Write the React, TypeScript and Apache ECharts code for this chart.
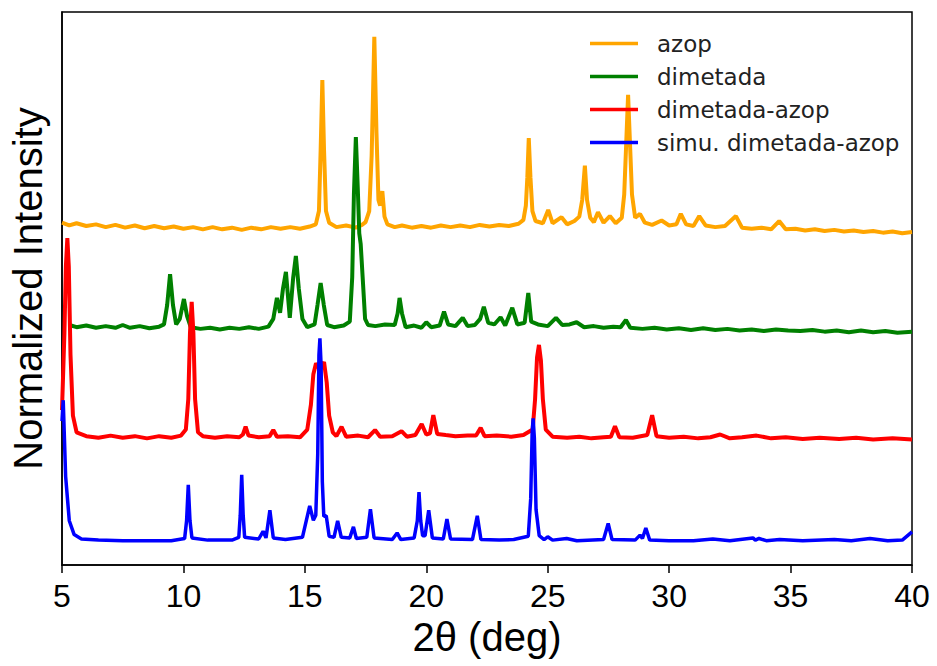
import React, { useEffect, useRef } from "react";
import * as echarts from "echarts";

// 2θ (deg) vs normalized intensity (offset traces, arbitrary units 0–100)
const xTicks = [5, 10, 15, 20, 25, 30, 35, 40];
const seriesNames = ["azop", "dimetada", "dimetada-azop", "simu. dimetada-azop"];
const seriesColors = ["#FFA500", "#008000", "#FF0000", "#0000FF"];
const seriesWidths = [4, 4, 4, 3.5];

const azop: number[][] = [
  [5.0, 61.9], [5.3, 61.4], [5.6, 61.8], [6.0, 61.3], [6.4, 61.6], [6.8, 61.1], [7.2, 61.5], [7.6, 61.0], [8.0, 61.4], [8.4, 60.9],
  [8.8, 61.3], [9.2, 60.9], [9.6, 61.2], [10.0, 60.8], [10.4, 61.1], [10.8, 60.7], [11.2, 61.1], [11.6, 60.7], [12.0, 61.0], [12.4, 60.6],
  [12.8, 61.0], [13.2, 60.7], [13.6, 61.1], [14.0, 60.8], [14.4, 61.1], [14.8, 60.8], [15.2, 61.2], [15.45, 61.6], [15.58, 64], [15.65, 75],
  [15.72, 87.7], [15.79, 75], [15.87, 64], [16.0, 61.9], [16.3, 61.1], [16.7, 61.4], [17.1, 61.0], [17.35, 61.5], [17.5, 62.0], [17.65, 64],
  [17.75, 74], [17.86, 95.5], [17.95, 78], [18.03, 66], [18.1, 65], [18.19, 67.6], [18.28, 63], [18.4, 61.6], [18.7, 61.1], [19.0, 61.4],
  [19.4, 61.0], [19.8, 61.3], [20.2, 61.0], [20.6, 61.4], [21.0, 61.1], [21.4, 61.4], [21.8, 61.1], [22.2, 61.5], [22.6, 61.2], [23.0, 61.5],
  [23.4, 61.3], [23.8, 61.7], [24.0, 62.4], [24.1, 65], [24.16, 70], [24.22, 77.2], [24.29, 70], [24.37, 64], [24.5, 62.2], [24.8, 61.8],
  [25.02, 64.2], [25.2, 61.8], [25.57, 62.9], [25.8, 61.6], [26.1, 62.2], [26.3, 63.0], [26.42, 66], [26.53, 72.2], [26.62, 66], [26.75, 62.8],
  [26.9, 62.0], [27.07, 63.8], [27.3, 61.9], [27.56, 63.1], [27.8, 61.8], [28.05, 62.8], [28.15, 67], [28.23, 76], [28.31, 85.0], [28.39, 76],
  [28.47, 67], [28.6, 62.8], [28.8, 63.5], [29.0, 61.9], [29.3, 61.5], [29.69, 62.3], [30.0, 61.4], [30.3, 61.6], [30.48, 63.5], [30.7, 61.6],
  [31.0, 61.3], [31.24, 63.1], [31.5, 61.4], [31.9, 61.1], [32.3, 61.3], [32.75, 63.1], [33.0, 61.0], [33.4, 60.8], [33.8, 61.0], [34.2, 60.7],
  [34.53, 62.2], [34.8, 60.7], [35.2, 60.8], [35.6, 60.5], [36.0, 60.7], [36.4, 60.4], [36.8, 60.6], [37.2, 60.3], [37.6, 60.5], [38.0, 60.2],
  [38.4, 60.4], [38.8, 60.1], [39.2, 60.3], [39.6, 60.0], [40.0, 60.2],
];

const dimetada: number[][] = [
  [5.3, 43.4], [5.6, 43.0], [6.0, 43.3], [6.4, 42.9], [6.8, 43.2], [7.2, 42.9], [7.5, 43.4], [7.8, 42.9], [8.2, 43.2], [8.6, 42.8],
  [9.0, 43.1], [9.2, 43.5], [9.33, 47], [9.45, 52.6], [9.57, 47], [9.7, 43.5], [9.85, 44.5], [10.02, 48.1], [10.15, 45], [10.3, 43.0],
  [10.7, 42.7], [11.1, 42.9], [11.5, 42.6], [11.9, 42.9], [12.3, 42.7], [12.7, 43.0], [13.1, 42.7], [13.5, 43.1], [13.7, 44.5], [13.85, 48.3],
  [13.98, 45.6], [14.1, 50], [14.22, 53.0], [14.38, 44.7], [14.52, 52], [14.63, 55.9], [14.75, 50], [14.9, 44.5], [15.1, 43.0], [15.4, 43.5],
  [15.52, 47], [15.65, 51.0], [15.78, 47], [15.92, 43.4], [16.2, 43.0], [16.6, 43.3], [16.85, 44], [16.95, 52], [17.02, 67], [17.1, 77.4],
  [17.18, 68], [17.24, 60], [17.3, 58.0], [17.38, 52], [17.48, 44.5], [17.6, 43.4], [17.9, 43.2], [18.3, 43.5], [18.7, 43.4], [18.82, 45.5],
  [18.9, 48.3], [19.0, 45.5], [19.15, 43.0], [19.5, 43.3], [19.8, 42.9], [20.0, 43.9], [20.2, 43.0], [20.55, 43.3], [20.73, 45.8], [20.9, 43.5],
  [21.2, 43.2], [21.5, 44.7], [21.7, 43.2], [22.0, 43.4], [22.22, 44.5], [22.37, 46.7], [22.55, 43.8], [22.8, 43.5], [23.06, 44.8], [23.25, 43.3],
  [23.54, 46.5], [23.75, 43.5], [24.05, 43.8], [24.2, 49.2], [24.32, 44.0], [24.6, 43.5], [25.0, 43.2], [25.34, 44.7], [25.6, 43.4], [25.9, 43.5],
  [26.19, 43.9], [26.5, 43.0], [26.9, 43.2], [27.3, 42.9], [27.7, 43.1], [28.0, 43.0], [28.22, 44.3], [28.4, 42.9], [28.9, 42.7], [29.4, 42.9],
  [29.9, 42.6], [30.4, 42.8], [30.9, 42.5], [31.4, 42.8], [31.9, 42.5], [32.4, 42.7], [32.9, 42.4], [33.4, 42.6], [33.9, 42.3], [34.4, 42.6],
  [34.9, 42.4], [35.4, 42.3], [35.9, 42.5], [36.4, 42.2], [36.9, 42.4], [37.4, 42.1], [37.9, 42.4], [38.4, 42.1], [38.9, 42.3], [39.4, 42.0],
  [40.0, 42.2],
];

const dimetadaAzop: number[][] = [
  [5.0, 28], [5.1, 42], [5.16, 54], [5.22, 59.1], [5.28, 54], [5.35, 38], [5.45, 27], [5.6, 24], [6.0, 23.3], [6.5, 23.0],
  [7.0, 23.4], [7.5, 23.0], [8.0, 23.3], [8.5, 22.9], [9.0, 23.3], [9.5, 23.0], [9.9, 23.4], [10.1, 24.5], [10.2, 30], [10.27, 42],
  [10.34, 47.6], [10.41, 42], [10.48, 30], [10.6, 24], [10.8, 23.3], [11.3, 23.0], [11.8, 23.3], [12.3, 23.1], [12.45, 23.6], [12.56, 25.0],
  [12.68, 23.4], [13.1, 23.1], [13.55, 23.3], [13.7, 24.4], [13.85, 23.2], [14.3, 23.3], [14.8, 23.1], [15.1, 24.5], [15.25, 29], [15.35, 34.5],
  [15.46, 36.5], [15.62, 35.3], [15.79, 36.7], [15.9, 33], [16.0, 27], [16.15, 24], [16.3, 23.3], [16.51, 25.0], [16.7, 23.2], [17.2, 23.4],
  [17.6, 23.1], [17.89, 24.4], [18.1, 23.2], [18.6, 23.3], [18.98, 24.2], [19.2, 23.2], [19.55, 23.5], [19.81, 25.5], [20.0, 23.6], [20.15, 23.8],
  [20.29, 27.1], [20.45, 23.7], [20.8, 23.5], [21.2, 23.3], [21.7, 23.4], [22.05, 23.4], [22.24, 24.8], [22.4, 23.3], [22.9, 23.4], [23.5, 23.2],
  [24.0, 23.5], [24.38, 24.5], [24.48, 30], [24.56, 37.5], [24.64, 39.8], [24.72, 37], [24.8, 30], [24.92, 24.5], [25.2, 23.2], [25.8, 23.0],
  [26.3, 23.2], [26.8, 22.9], [27.3, 23.1], [27.6, 23.2], [27.77, 25.1], [27.95, 23.1], [28.5, 23.0], [29.1, 23.5], [29.3, 27.1], [29.48, 23.3],
  [30.0, 23.0], [30.6, 23.2], [31.2, 22.9], [31.7, 23.1], [32.1, 23.6], [32.5, 22.9], [33.0, 23.1], [33.6, 23.4], [34.2, 22.9], [34.8, 23.1],
  [35.5, 22.8], [36.2, 23.0], [37.0, 22.8], [37.7, 23.0], [38.4, 22.7], [39.2, 22.9], [40.0, 22.7],
];

const simuDimetadaAzop: number[][] = [
  [5.0, 26.0], [5.05, 29.8], [5.15, 16], [5.3, 8], [5.5, 5.5], [5.8, 4.7], [6.5, 4.5], [7.5, 4.4], [8.5, 4.4], [9.5, 4.4],
  [10.05, 4.8], [10.13, 8], [10.2, 14.5], [10.27, 8], [10.35, 4.9], [11.0, 4.5], [12.0, 4.5], [12.28, 5.0], [12.34, 9], [12.4, 16.3],
  [12.46, 9], [12.52, 5.0], [13.1, 4.7], [13.28, 6.1], [13.4, 4.9], [13.56, 9.9], [13.7, 4.9], [14.2, 4.6], [14.9, 5.0], [15.2, 10.7],
  [15.35, 8.1], [15.45, 9.0], [15.53, 20], [15.58, 38], [15.62, 41.0], [15.67, 36], [15.72, 15], [15.78, 8.8], [15.88, 8.9], [16.0, 5.2],
  [16.2, 5.0], [16.35, 8.0], [16.5, 5.0], [16.85, 4.9], [17.0, 6.9], [17.12, 4.8], [17.55, 5.0], [17.7, 10.1], [17.85, 4.9], [18.6, 4.6],
  [18.8, 5.8], [18.95, 4.6], [19.5, 4.9], [19.63, 8], [19.7, 13.2], [19.77, 8], [19.85, 5.3], [19.95, 5.3], [20.1, 9.9], [20.25, 4.9],
  [20.7, 4.7], [20.85, 8.3], [21.0, 4.7], [21.9, 4.6], [22.1, 8.9], [22.25, 4.6], [23.0, 4.5], [23.6, 4.6], [24.2, 5.2], [24.3, 12],
  [24.36, 24], [24.4, 26.5], [24.45, 23], [24.52, 10], [24.65, 5.3], [24.85, 4.6], [25.0, 5.1], [25.2, 4.5], [25.78, 4.8], [26.2, 4.4],
  [27.3, 4.6], [27.49, 7.5], [27.65, 4.6], [28.6, 4.5], [28.8, 5.4], [28.9, 4.8], [29.04, 6.7], [29.2, 4.5], [30.0, 4.4], [31.0, 4.4],
  [31.8, 4.7], [32.5, 4.4], [33.45, 4.9], [33.55, 4.5], [33.7, 4.8], [34.0, 4.4], [34.55, 4.6], [35.5, 4.4], [36.8, 4.6], [37.5, 4.4],
  [38.27, 4.8], [39.0, 4.4], [39.6, 4.5], [40.0, 6.0],
];

const seriesData = [azop, dimetada, dimetadaAzop, simuDimetadaAzop];

export default function App() {
  const ref = useRef<HTMLDivElement>(null);
  useEffect(() => {
    if (!ref.current) return;
    const chart = echarts.init(ref.current, undefined, { renderer: "svg" });
    chart.setOption({
      animation: false,
      backgroundColor: "#fff",
      grid: {
        left: 62, right: 25, top: 12, bottom: 101,
        show: true, borderColor: "#000", borderWidth: 1.5, backgroundColor: "transparent",
      },
      legend: {
        orient: "vertical",
        left: 585,
        top: 27,
        itemGap: 10,
        itemWidth: 48,
        itemHeight: 3.5,
        icon: "rect",
        data: seriesNames,
        textStyle: {
          fontFamily: "DejaVu Sans",
          fontSize: 23,
          color: "#222",
          padding: [0, 0, 0, 14],
        },
      },
      xAxis: {
        type: "value",
        min: 5,
        max: 40,
        interval: 5,
        axisLine: { show: true, onZero: false, lineStyle: { color: "#000", width: 1.5 } },
        axisTick: { show: true, inside: false, length: 8, lineStyle: { color: "#000", width: 1.5 } },
        axisLabel: {
          fontFamily: "Liberation Sans, Arial, sans-serif",
          fontSize: 32,
          color: "#000",
          margin: 15,
          formatter: (v: number) => (xTicks.includes(v) ? String(v) : ""),
        },
        splitLine: { show: false },
        name: "2θ (deg)",
        nameLocation: "middle",
        nameGap: 45,
        nameTextStyle: {
          fontFamily: "Liberation Sans, Arial, sans-serif",
          fontSize: 40,
          color: "#000",
        },
      },
      yAxis: {
        type: "value",
        min: 0,
        max: 100,
        axisLine: { show: true, onZero: false, lineStyle: { color: "#000", width: 1.5 } },
        axisTick: { show: false },
        axisLabel: { show: false },
        splitLine: { show: false },
        name: "Normalized Intensity",
        nameLocation: "middle",
        nameGap: 14,
        nameTextStyle: {
          fontFamily: "Liberation Sans, Arial, sans-serif",
          fontSize: 40,
          color: "#000",
        },
      },
      series: seriesNames.map((name, i) => ({
        name,
        type: "line",
        data: seriesData[i],
        showSymbol: false,
        symbol: "none",
        smooth: false,
        color: seriesColors[i],
        lineStyle: { color: seriesColors[i], width: seriesWidths[i] },
        z: 2 + i,
      })),
    });
    return () => chart.dispose();
  }, []);
  return (
    <div
      ref={ref}
      style={{ position: "fixed", left: 0, top: 0, width: 937, height: 666 }}
    />
  );
}
